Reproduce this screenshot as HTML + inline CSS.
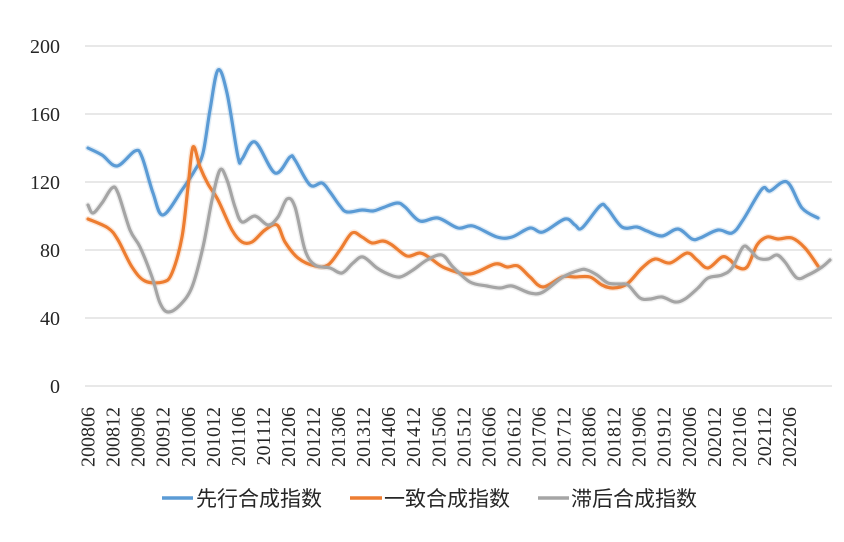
<!DOCTYPE html>
<html>
<head>
<meta charset="utf-8">
<style>
  html, body { margin: 0; padding: 0; background: #ffffff; }
  body { width: 844px; height: 542px; overflow: hidden; }
  svg { display: block; }
  .yl { font-family: "Liberation Serif", "Noto Serif CJK SC", serif; font-size: 20px; fill: #262626; }
  .xl { font-family: "Liberation Serif", "Noto Serif CJK SC", serif; font-size: 20px; fill: #262626; }
  .lg { font-family: "Liberation Sans", "Noto Sans CJK SC", sans-serif; font-size: 21px; fill: #262626; }
</style>
</head>
<body>
<svg id="chart" width="844" height="542" viewBox="0 0 844 542" xmlns="http://www.w3.org/2000/svg">
  <rect width="844" height="542" fill="#ffffff"/>
  <g stroke="#d9d9d9" stroke-width="1.2">
    <line x1="85" y1="46" x2="832" y2="46"/>
    <line x1="85" y1="114" x2="832" y2="114"/>
    <line x1="85" y1="182" x2="832" y2="182"/>
    <line x1="85" y1="250" x2="832" y2="250"/>
    <line x1="85" y1="318" x2="832" y2="318"/>
    <line x1="85" y1="386" x2="832" y2="386"/>
  </g>
  <g class="yl" text-anchor="end">
    <text x="60" y="53">200</text>
    <text x="60" y="121">160</text>
    <text x="60" y="189">120</text>
    <text x="60" y="257">80</text>
    <text x="60" y="325">40</text>
    <text x="60" y="393">0</text>
  </g>
  <g class="xl" text-anchor="end">
    <text transform="translate(94.6,407) rotate(-90)">200806</text>
    <text transform="translate(119.6,407) rotate(-90)">200812</text>
    <text transform="translate(144.7,407) rotate(-90)">200906</text>
    <text transform="translate(169.7,407) rotate(-90)">200912</text>
    <text transform="translate(194.8,407) rotate(-90)">201006</text>
    <text transform="translate(219.8,407) rotate(-90)">201012</text>
    <text transform="translate(244.9,407) rotate(-90)">201106</text>
    <text transform="translate(269.9,407) rotate(-90)">201112</text>
    <text transform="translate(295.0,407) rotate(-90)">201206</text>
    <text transform="translate(320.0,407) rotate(-90)">201212</text>
    <text transform="translate(345.1,407) rotate(-90)">201306</text>
    <text transform="translate(370.1,407) rotate(-90)">201312</text>
    <text transform="translate(395.2,407) rotate(-90)">201406</text>
    <text transform="translate(420.2,407) rotate(-90)">201412</text>
    <text transform="translate(445.3,407) rotate(-90)">201506</text>
    <text transform="translate(470.3,407) rotate(-90)">201512</text>
    <text transform="translate(495.4,407) rotate(-90)">201606</text>
    <text transform="translate(520.4,407) rotate(-90)">201612</text>
    <text transform="translate(545.5,407) rotate(-90)">201706</text>
    <text transform="translate(570.5,407) rotate(-90)">201712</text>
    <text transform="translate(595.6,407) rotate(-90)">201806</text>
    <text transform="translate(620.6,407) rotate(-90)">201812</text>
    <text transform="translate(645.7,407) rotate(-90)">201906</text>
    <text transform="translate(670.7,407) rotate(-90)">201912</text>
    <text transform="translate(695.8,407) rotate(-90)">202006</text>
    <text transform="translate(720.8,407) rotate(-90)">202012</text>
    <text transform="translate(745.9,407) rotate(-90)">202106</text>
    <text transform="translate(770.9,407) rotate(-90)">202112</text>
    <text transform="translate(796.0,407) rotate(-90)">202206</text>
  </g>
  <g id="series" fill="none" stroke-linejoin="round" stroke-linecap="round">
    <polyline class="s" data-c="#5b9bd5" stroke="#5b9bd5" stroke-width="3.2" points="88,148 102,155 117,166 135,151 142,157 153,193 163,215 182,190 195,170 203,153 210,110 218,70 227,93 238,157 242,159 255,142 275,173 290,157 295,160 310,185 322,183 330,192 340,206 347,212 362,210 373,211 382,208 397,203 405,207 420,221 438,218 458,228 473,226 497,237 512,237 530,228 543,232 565,219 575,225 582,228 600,206 607,208 622,227 637,227 647,231 662,236 678,229 692,239 700,238 718,230 732,233 743,220 762,189 770,191 787,182 802,208 818,218"/>
    <polyline class="s" data-c="#ed7d31" stroke="#ed7d31" stroke-width="3.2" points="88,219 108,228 118,240 132,267 145,281 163,282 172,273 182,237 188,187 193,147 200,167 208,184 218,200 232,230 242,242 252,242 265,230 277,225 285,242 298,258 315,266 328,265 340,250 352,233 362,237 372,243 383,241 392,245 407,256 420,253 430,258 445,268 470,274 495,264 507,267 518,266 530,277 543,287 562,277 575,277 590,277 602,285 613,288 627,284 642,268 655,259 670,263 687,253 697,260 708,268 722,257 730,260 737,267 747,267 757,245 767,237 778,239 792,238 805,248 818,266"/>
    <polyline class="s" data-c="#a5a5a5" stroke="#a5a5a5" stroke-width="3.2" points="88,205 93,213 102,203 112,188 118,193 130,230 140,247 152,277 160,303 168,312 180,305 192,287 203,247 212,200 220,170 227,180 235,207 242,222 255,216 268,225 278,217 287,199 295,207 305,250 315,265 330,268 342,273 353,263 363,257 377,268 388,274 400,277 413,270 427,260 442,255 453,267 470,282 487,286 500,288 512,286 530,293 543,292 563,277 580,270 587,270 597,275 608,283 620,284 628,285 640,298 650,299 662,297 675,302 685,299 698,288 708,278 722,275 732,268 743,247 750,250 758,258 768,259 777,255 785,262 797,278 808,275 822,267 830,260"/>
  </g>
  <g stroke-width="3.5" stroke-linecap="butt">
    <line x1="162" y1="498" x2="193" y2="498" stroke="#5b9bd5"/>
    <line x1="350" y1="498" x2="382" y2="498" stroke="#ed7d31"/>
    <line x1="538" y1="498" x2="569" y2="498" stroke="#a5a5a5"/>
  </g>
  <g class="lg">
    <text x="196" y="506">先行合成指数</text>
    <text x="384" y="506">一致合成指数</text>
    <text x="571" y="506">滞后合成指数</text>
  </g>
</svg>
<script>
(function(){
  var NS = "http://www.w3.org/2000/svg";
  var g = document.getElementById("series");
  var pls = Array.prototype.slice.call(g.querySelectorAll("polyline.s"));
  pls.forEach(function(pl){
    var pts = pl.getAttribute("points").trim().split(/\s+/).map(function(s){
      var a = s.split(","); return [parseFloat(a[0]), parseFloat(a[1])];
    });
    var d = "M" + pts[0][0] + "," + pts[0][1];
    for (var i = 0; i < pts.length - 1; i++) {
      var p0 = pts[i-1] || pts[i], p1 = pts[i], p2 = pts[i+1], p3 = pts[i+2] || pts[i+1];
      var t = 1/6;
      var c1x = p1[0] + (p2[0]-p0[0])*t, c1y = p1[1] + (p2[1]-p0[1])*t;
      var c2x = p2[0] - (p3[0]-p1[0])*t, c2y = p2[1] - (p3[1]-p1[1])*t;
      d += " C" + c1x.toFixed(2) + "," + c1y.toFixed(2) + " " + c2x.toFixed(2) + "," + c2y.toFixed(2) + " " + p2[0] + "," + p2[1];
    }
    var c = pl.getAttribute("data-c");
    var halo = document.createElementNS(NS, "path");
    halo.setAttribute("d", d);
    halo.setAttribute("stroke", c);
    halo.setAttribute("stroke-width", "6");
    halo.setAttribute("stroke-opacity", "0.18");
    var path = document.createElementNS(NS, "path");
    path.setAttribute("d", d);
    path.setAttribute("stroke", c);
    path.setAttribute("stroke-width", "3.2");
    g.insertBefore(halo, pl);
    g.insertBefore(path, pl);
    g.removeChild(pl);
  });
})();
</script>
</body>
</html>
